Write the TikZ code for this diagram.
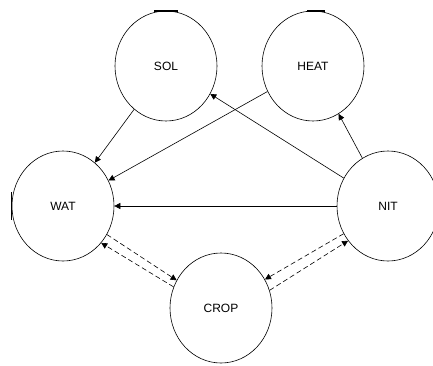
\documentclass[tikz,border=0pt]{standalone}
\usepackage{fontspec}
\setmainfont{Liberation Sans}
\usepackage{tikz}
\usetikzlibrary{positioning}
\usetikzlibrary{shapes.geometric, arrows.meta}
\tikzstyle{state} = [ellipse, minimum width=102pt, minimum height=110pt, inner sep=0pt, draw=black, line width=0.6pt, font=\fontsize{12}{14}\selectfont]
\tikzstyle{arrow} = [line width=0.6pt,-{Triangle[length=6pt,width=6pt]}]
\tikzstyle{dasharrow} = [arrow, dash pattern=on 5pt off 3pt]
\tikzstyle{heavyrim} = [line width=1.6pt]

\begin{document}
\begin{tikzpicture}[node distance=325pt]
        \useasboundingbox (-63pt,-159pt) rectangle (370pt,206pt);
        \node (wat) [state] {WAT};
        \node (nit) [state, right of=wat] {NIT};
        \node (sol) [state, above of=wat, node distance=140pt, xshift=103pt] {SOL};
        \node (heat) [state, right of=sol, node distance=147pt] {HEAT};
        \node (crop) [state, below of=wat, node distance=102pt, xshift=158pt] {CROP};
        \draw [arrow] (sol) -- (wat);
        \draw [arrow] (heat) -- (wat);
        \draw [arrow] (nit) -- (sol);
        \draw [arrow] (nit) -- (heat);
        \draw [arrow] (nit) -- (wat);
        \draw [dasharrow] (wat.-33) -- (crop.148);
        \draw [dasharrow] (crop.156) -- (wat.-44);
        \draw [dasharrow] (nit.212) -- (crop.33);
        \draw [dasharrow] (crop.20) -- (nit.221);
        % heavy bits on the outlines
        \draw [heavyrim] ([xshift=-12pt]sol.north) -- ([xshift=12pt]sol.north);
        \draw [heavyrim] ([xshift=-6pt]heat.north) -- ([xshift=12pt]heat.north);
        \draw [heavyrim] ([yshift=14pt]wat.west) -- ([yshift=-14pt]wat.west);
    \end{tikzpicture}
\end{document}
